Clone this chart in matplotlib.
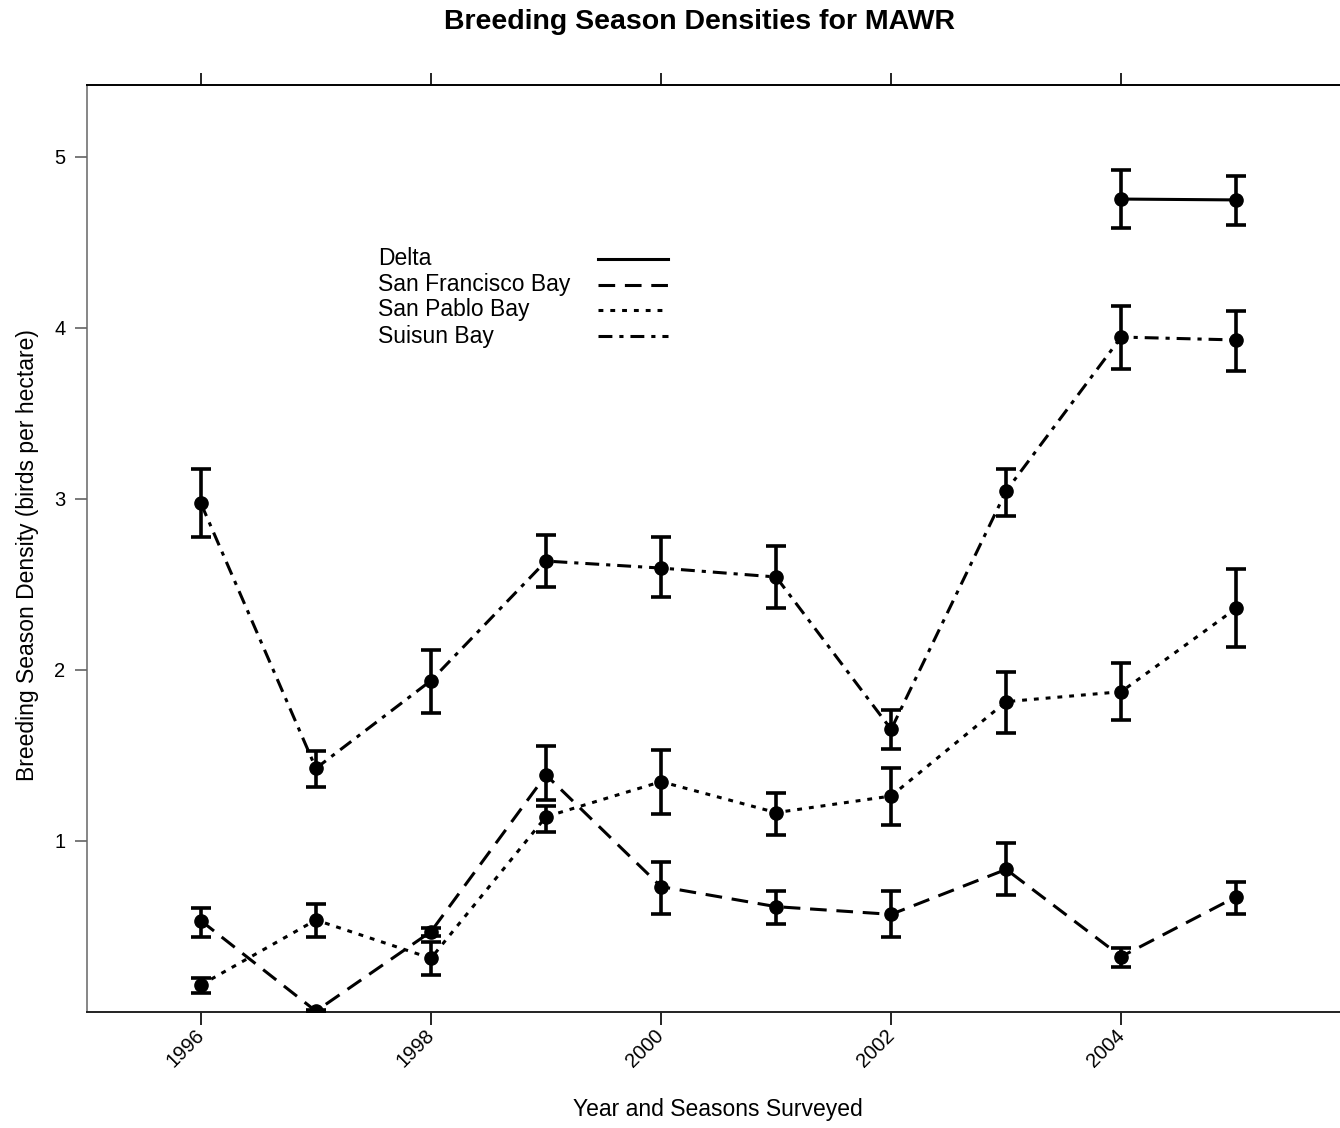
import matplotlib
matplotlib.use("Agg")
import matplotlib.pyplot as plt
import numpy as np

plt.rcParams['font.family'] = ['Liberation Sans', 'DejaVu Sans']
plt.rcParams['lines.scale_dashes'] = False

years = [1996, 1997, 1998, 1999, 2000, 2001, 2002, 2003, 2004, 2005]

# density estimates with lower / upper confidence limits
delta_years = [2004, 2005]
delta = [4.754, 4.749]
delta_lo = [4.585, 4.600]
delta_hi = [4.924, 4.890]

sf = [0.534, 0.005, 0.470, 1.386, 0.733, 0.616, 0.571, 0.834, 0.324, 0.674]
sf_lo = [0.440, 0.000, 0.444, 1.240, 0.571, 0.515, 0.440, 0.684, 0.265, 0.571]
sf_hi = [0.606, 0.010, 0.493, 1.557, 0.879, 0.709, 0.708, 0.987, 0.372, 0.762]

sp = [0.158, 0.538, 0.314, 1.142, 1.347, 1.166, 1.263, 1.815, 1.873, 2.361]
sp_lo = [0.113, 0.440, 0.216, 1.054, 1.158, 1.035, 1.094, 1.630, 1.706, 2.136]
sp_hi = [0.197, 0.632, 0.411, 1.205, 1.532, 1.282, 1.425, 1.987, 2.039, 2.589]

suisun = [2.975, 1.425, 1.938, 2.637, 2.596, 2.544, 1.653, 3.047, 3.947, 3.930]
suisun_lo = [2.780, 1.318, 1.750, 2.485, 2.427, 2.363, 1.538, 2.901, 3.760, 3.749]
suisun_hi = [3.174, 1.528, 2.117, 2.789, 2.778, 2.725, 1.766, 3.175, 4.129, 4.099]

labels = ["Delta", "San Francisco Bay", "San Pablo Bay", "Suisun Bay"]
styles = ['-', (0, (12, 7)), (0, (3.5, 5)), (0, (10, 5, 3, 5))]

fig = plt.figure(figsize=(13.4, 11.28), dpi=100)
ax = fig.add_axes([87 / 1340, 116 / 1128, 1262 / 1340, 927 / 1128])

series = [
    (delta_years, delta, delta_lo, delta_hi),
    (years, sf, sf_lo, sf_hi),
    (years, sp, sp_lo, sp_hi),
    (years, suisun, suisun_lo, suisun_hi),
]

for (x, y, lo, hi), ls in zip(series, styles):
    x = np.array(x)
    y = np.array(y)
    err = np.vstack([y - np.array(lo), np.array(hi) - y])
    ax.plot(x, y, color='black', lw=2.2, ls=ls, dash_capstyle='butt')
    ax.errorbar(x, y, yerr=err, fmt='o', color='black', ms=9.5,
                elinewidth=2.6, capsize=7.5, capthick=2.6, zorder=3)

ax.set_xlim(1995.01, 2005.98)
ax.set_ylim(0, 5.421)

ax.set_xticks([1996, 1998, 2000, 2002, 2004])
ax.set_yticks([1, 2, 3, 4, 5])
ax.tick_params(axis='x', which='both', direction='out', length=9, width=1.2,
               top=True, labeltop=False, labelsize=14.5, pad=6)
ax.tick_params(axis='y', direction='out', length=8.5, width=1.1,
               color='#555555', labelsize=14.5, pad=7)
for lbl in ax.get_xticklabels():
    lbl.set_rotation(45)
    lbl.set_ha('right')
    lbl.set_va('center')
    lbl.set_rotation_mode('anchor')

ax.spines['right'].set_visible(False)
ax.spines['left'].set_color('#666666')
ax.spines['left'].set_linewidth(1.1)
ax.spines['top'].set_linewidth(1.4)
ax.spines['bottom'].set_linewidth(1.4)
ax.spines['bottom'].set_color('#222222')

ax.set_xlabel("Year and Seasons Surveyed", fontsize=16.5)
ax.xaxis.set_label_coords((718 - 87) / 1262, -86 / 927)
ax.set_ylabel("Breeding Season Density (birds per hectare)", fontsize=16.5)
ax.yaxis.set_label_coords(-48 / 1262, 0.493)

fig.text(700 / 1340, 1 - 22 / 1128, "Breeding Season Densities for MAWR",
         fontsize=20.5, fontweight='bold', ha='center', va='center')

# key: labels on the left, line samples on the right
key_y = [0.8123, 0.7843, 0.7573, 0.7292]
for lab, ls, ky in zip(labels, styles, key_y):
    ax.text(291 / 1262, ky, lab, transform=ax.transAxes, fontsize=16.5,
            ha='left', va='center')
    ax.plot([511 / 1262, 581 / 1262], [ky, ky], transform=ax.transAxes,
            color='black', lw=2.2, ls=ls, dash_capstyle='butt')

fig.savefig("out.png", dpi=100)
